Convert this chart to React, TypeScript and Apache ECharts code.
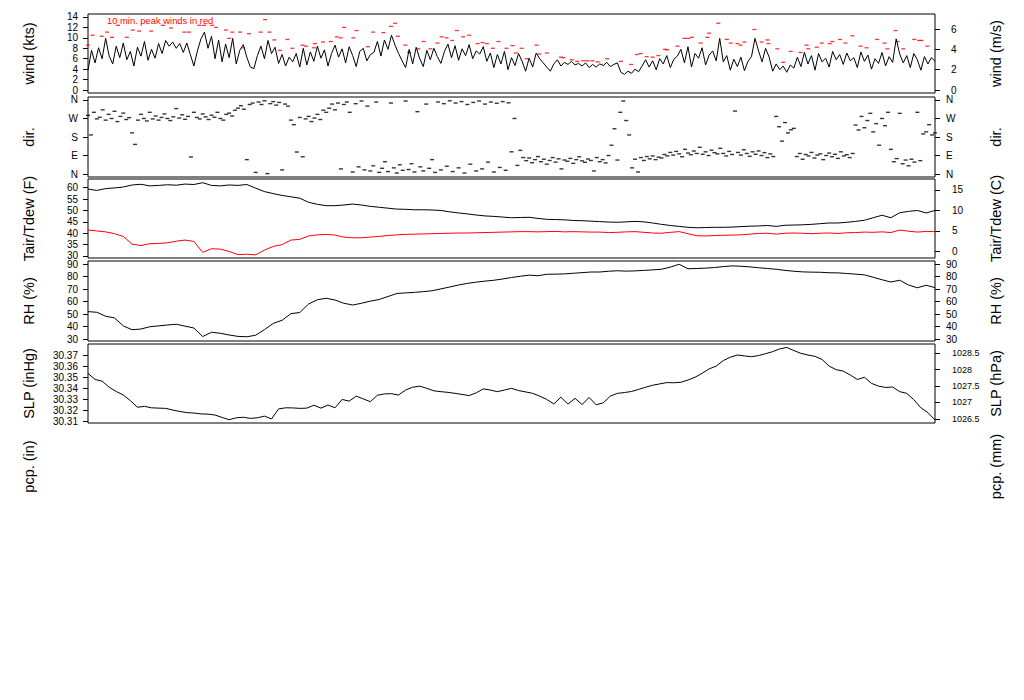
import React, { useEffect, useRef } from "react";
import * as echarts from "echarts";

// ---------- data (24 h, equally spaced samples) ----------
const windKts = [
  3.8, 7.6, 5.2, 8.1, 6.0, 9.9, 6.5, 5.0, 8.4, 6.2, 9.0, 5.8, 7.4,
  4.6, 8.2, 6.5, 9.3, 5.7, 7.8, 6.1, 8.9, 7.0, 9.5, 8.4, 9.2, 8.0,
  8.9, 7.2, 9.0, 6.8, 4.6, 7.5, 9.8, 11.1, 8.0, 10.3, 6.0,
  9.6, 5.4, 8.8, 6.2, 9.9, 5.0, 7.6, 8.7, 6.3, 4.4,
  4.1, 6.6, 8.4, 6.0, 9.5, 7.0, 8.2,
  5.1, 6.8, 4.6, 6.3, 5.4, 7.0, 4.4,
  8.0, 4.8, 7.3, 5.5, 8.4, 6.1, 7.7, 4.6, 7.0, 8.6, 6.3, 7.9,
  5.2, 8.3, 6.6, 4.5, 7.4, 8.0, 5.6, 6.8,
  7.2, 9.3, 6.5, 9.6, 7.8, 10.5, 8.6, 7.0,
  5.6, 4.3, 7.8, 5.0, 8.2, 6.0, 4.5, 7.6, 5.8, 8.0, 6.4, 5.1, 7.4, 8.8,
  6.2, 8.5, 5.7, 7.9, 6.6, 8.7, 6.0, 7.5, 6.9, 8.3, 5.5, 7.1,
  4.3, 6.8, 5.0, 7.4, 3.9, 6.2, 4.7, 7.0, 5.5, 3.6, 6.1, 4.4, 7.1,
  6.0, 5.2, 4.4, 3.6, 5.0, 5.8, 4.6, 5.3, 4.9, 5.5, 4.8, 5.1,
  4.6, 5.2, 4.3, 4.9, 4.4, 5.0, 4.7, 5.3, 4.5, 4.9, 5.2,
  3.4, 3.0, 3.6, 3.2, 4.0, 3.5, 4.6,
  5.8, 4.4, 5.6, 3.9, 6.0,
  5.0, 6.6, 4.3, 5.9, 6.5,
  7.8, 5.2, 8.3, 4.4, 7.0, 6.1, 8.1, 4.8, 6.7, 7.5, 5.6, 9.9,
  5.4, 6.6, 3.8, 5.9, 4.5, 6.3, 3.7, 5.5, 6.4, 9.9,
  7.5, 5.4, 8.0, 6.3,
  3.6, 5.0, 3.9, 4.6, 3.4, 4.8, 4.2,
  6.3, 4.5, 7.2, 5.0, 6.6, 3.8, 7.0, 5.4, 6.1, 4.4, 7.4, 5.8, 6.8, 4.9, 7.1, 5.6,
  6.2, 4.3, 7.3, 5.5, 6.7, 4.0, 6.0, 5.1, 7.2, 4.6, 6.4, 5.3, 9.8,
  6.9, 5.2, 6.6, 4.3, 7.0, 5.8, 3.8, 6.4, 5.0, 6.2, 5.5,
];

const peakHours = [
  0.0, 0.13, 0.39, 0.54, 0.68, 0.85, 1.10, 1.27, 1.45, 1.79, 2.12, 2.35, 2.73, 2.86, 3.15, 3.29, 3.52, 3.63,
  3.91, 4.00, 4.09, 4.31, 4.39, 4.56, 4.89, 5.02, 5.14, 5.28, 5.44, 5.65, 5.79,
  6.08, 6.18, 6.40, 6.43, 6.66, 6.88, 7.05, 7.16, 7.26, 7.52, 7.61, 7.93, 8.08, 8.37, 8.58, 8.70, 8.78,
  8.99, 9.10, 9.36, 9.51, 9.70, 9.90, 10.02, 10.16, 10.32, 10.45, 10.63, 10.80, 11.04, 11.18, 11.30,
  11.47, 11.63, 11.86, 12.03, 12.12, 12.29, 12.43, 12.71, 12.79, 13.00, 13.40, 13.47, 13.71, 13.86,
  14.03, 14.15, 14.29, 14.44, 14.71, 15.10, 15.39, 15.55, 15.66, 15.83, 16.00, 16.16,
  16.35, 16.41, 16.70, 16.90, 17.01, 17.11, 17.36, 17.55, 17.60, 17.86, 18.10, 18.21, 18.40, 18.49,
  18.60, 18.88, 19.09, 19.25, 19.28, 19.53, 19.70, 19.91, 20.19, 20.36, 20.41, 20.65, 20.79, 21.02,
  21.09, 21.31, 21.46, 21.66, 21.89, 22.06, 22.36, 22.57, 22.65, 22.88, 22.94, 23.10, 23.41, 23.55,
  23.62, 23.78,
];
const peakKts = [
  8.6, 10.5, 10.3, 11.1, 10.1, 12.4, 10.1, 11.5, 11.3, 11.3, 12.4, 11.9, 11.1, 11.1, 12.4, 12.4, 12.4, 12.0,
  11.5, 9.9, 11.1, 11.1, 8.1, 10.8, 11.1, 13.5, 11.1, 9.6, 7.6, 9.7, 8.0,
  8.6, 8.4, 8.1, 8.9, 9.2, 9.3, 10.2, 10.0, 12.0, 10.0, 11.4, 8.3, 11.1, 11.0, 12.2, 12.8, 10.3,
  8.6, 7.2, 7.9, 9.3, 7.9, 9.0, 10.2, 10.0, 9.5, 11.4, 10.2, 10.5, 8.9, 9.1, 8.9,
  8.0, 9.3, 8.0, 8.5, 7.1, 8.0, 6.0, 8.6, 6.9, 7.1, 6.3, 6.2, 5.8, 5.5,
  5.6, 5.6, 5.6, 5.4, 6.0, 5.5, 4.9, 6.8, 7.0, 6.4, 6.3, 6.6,
  7.8, 7.7, 8.4, 9.9, 9.9, 10.1, 9.0, 10.1, 10.9, 12.8, 9.7, 9.0, 8.9, 8.6,
  9.2, 11.6, 9.2, 9.6, 8.9, 7.9, 5.3, 7.4, 7.2, 8.6, 7.9, 8.2, 9.0, 8.9,
  9.3, 9.7, 9.0, 10.4, 8.4, 8.1, 9.7, 9.0, 7.9, 11.4, 9.3, 7.9, 9.7, 9.5,
  9.5, 8.4,
];

const dirDeg = [
  285, 190, 300, 268, 276, 312, 262, 290, 270, 305, 255, 280, 296, 265, 274, 200, 144, 262, 290, 270,
  258, 300, 268, 282, 262, 275, 292, 270, 260, 278, 318, 272, 288, 266, 280, 83, 300, 275, 268, 292,
  278, 265, 286, 276, 300, 270, 262, 290, 296, 282, 310, 320, 332, 315, 70, 338,
  345, 8, 350, 338, 356, 2, 342, 352, 335, 348, 20, 340, 330, 262, 240, 107, 275,
  84, 268, 280, 255, 272, 290, 265, 310, 300, 320, 340, 312, 345, 25, 338, 350, 300, 10, 342, 35, 355, 20, 330,
  15, 40, 350, 8, 28, 60, 12, 345, 30, 5, 45, 18, 355, 22, 50, 10, 303, 35, 15, 340, 28, 70, 8,
  350, 20, 342, 38, 356, 12, 345, 30, 352, 5, 338, 48, 348, 15, 355, 25, 340, 58, 350, 10, 344, 32, 352, 18,
  346, 108, 270, 42, 115, 80,
  65, 78, 55, 70, 85, 60, 72, 48, 66, 80, 58, 74, 25, 68, 62, 76, 52, 70, 84, 64, 57, 73, 66, 15, 80, 60,
  70, 54, 90, 140, 220, 68,
  300, 355, 260, 190, 30, 72, 10, 80, 66, 85, 74, 88, 70, 82, 78,
  95, 88, 105, 92, 110, 98, 84, 120, 102, 94, 112, 100, 130, 96, 108, 90, 116, 104, 98, 125, 100, 88, 110,
  95, 306, 105, 92, 118, 100, 86, 108, 96, 112, 90, 104, 80, 98, 85,
  280, 230, 160, 250, 200, 215, 222,
  85, 100, 72, 95, 88, 105, 78, 92, 98, 70, 90, 102, 84, 96, 76, 108, 88, 94, 80, 100,
  238, 214, 280, 225, 260, 295, 205, 245, 140, 270, 235, 300,
  120, 60, 75, 295, 50, 68, 40, 72, 58, 300, 65,
  195, 205, 240, 190, 200,
];

const tairF = [
  59.4, 58.8, 59.6, 59.9, 60.3, 61.2, 61.5, 60.8, 61.0, 61.3,
  61.1, 61.6, 61.4, 62.2, 61.0, 60.8, 61.2, 61.0, 61.4, 59.8,
  58.3, 57.4, 56.6, 56.0, 55.4, 53.6, 52.7, 52.1, 52.1, 52.4,
  52.8, 52.4, 51.8, 51.4, 51.0, 50.6, 50.5, 50.3, 50.3, 50.2,
  50.0, 49.4, 48.9, 48.5, 48.0, 47.6, 47.4, 47.1, 46.8, 46.9,
  47.0, 46.5, 46.1, 46.0, 45.9, 45.6, 45.5, 45.3, 45.1, 44.9,
  44.8, 45.0, 45.2, 45.0, 44.5, 43.9, 43.4, 43.0, 42.6, 42.4,
  42.5, 42.6, 42.6, 42.7, 42.9, 43.1, 43.2, 43.4, 43.0, 43.5,
  43.6, 43.7, 43.9, 44.2, 44.5, 44.5, 44.8, 45.2, 45.7, 46.8,
  47.9, 46.8, 49.0, 49.6, 50.0, 48.9, 50.0,
];
const tdewF = [
  41.4, 41.0, 40.6, 39.8, 38.6, 35.2, 34.6, 35.4, 35.5, 35.8,
  36.5, 37.0, 36.4, 31.6, 33.2, 33.0, 32.0, 30.6, 30.8, 30.5,
  32.6, 34.2, 35.0, 37.0, 37.3, 38.8, 39.3, 39.5, 39.2, 38.3,
  38.0, 38.0, 38.3, 38.6, 39.0, 39.3, 39.5, 39.6, 39.7, 39.8,
  39.9, 40.0, 40.1, 40.1, 40.2, 40.3, 40.4, 40.5, 40.6, 40.7,
  40.7, 40.6, 40.7, 40.8, 40.6, 40.7, 40.6, 40.5, 40.5, 40.3,
  40.4, 40.6, 40.7, 40.4, 40.1, 40.0, 40.4, 40.7, 39.8, 38.9,
  38.8, 39.0, 39.1, 39.2, 39.3, 39.6, 39.9, 40.0, 39.6, 40.0,
  40.1, 40.0, 39.8, 40.0, 40.1, 39.9, 40.2, 40.3, 40.5, 40.4,
  40.6, 40.3, 41.4, 40.9, 40.5, 40.8, 40.7,
];
const rhPct = [
  51.9, 51.4, 48.2, 46.9, 40.5, 37.4, 38.0, 39.8, 40.5, 41.2,
  41.8, 40.3, 38.8, 32.0, 35.4, 34.6, 33.2, 32.1, 31.8, 33.0,
  37.5, 42.5, 45.0, 50.3, 51.2, 58.0, 61.4, 62.6, 61.2, 58.6,
  57.2, 58.6, 60.3, 61.6, 64.0, 66.4, 66.9, 67.3, 67.9, 68.6,
  70.1, 71.6, 73.2, 74.5, 75.5, 76.3, 77.0, 78.0, 79.2, 80.2,
  81.1, 80.6, 81.8, 81.9, 82.1, 82.6, 83.1, 83.6, 83.6, 84.2,
  84.6, 84.3, 84.5, 84.9, 85.3, 85.8, 87.5, 89.8, 86.2, 86.4,
  86.7, 87.2, 87.9, 88.5, 88.2, 87.7, 87.0, 86.4, 85.8, 84.9,
  84.2, 83.7, 83.5, 83.4, 83.0, 82.9, 82.4, 81.9, 81.3, 79.4,
  77.4, 75.6, 77.0, 73.2, 71.0, 73.0, 71.1,
];
const slpInHg = [
  30.3535, 30.3480, 30.3465, 30.3410, 30.3372, 30.3340, 30.3290, 30.3230, 30.3238, 30.3225,
  30.3222, 30.3220, 30.3205, 30.3192, 30.3182, 30.3178, 30.3170, 30.3168, 30.3160, 30.3138,
  30.3118, 30.3135, 30.3140, 30.3130, 30.3135, 30.3150, 30.3125, 30.3215, 30.3225, 30.3224,
  30.3220, 30.3222, 30.3248, 30.3222, 30.3250, 30.3225, 30.3300, 30.3285, 30.3330, 30.3305,
  30.3280, 30.3338, 30.3350, 30.3352, 30.3340, 30.3385, 30.3410, 30.3420, 30.3400, 30.3378,
  30.3370, 30.3364, 30.3355, 30.3345, 30.3335, 30.3360, 30.3395, 30.3385, 30.3370, 30.3385,
  30.3400, 30.3380, 30.3368, 30.3355, 30.3330, 30.3300, 30.3260, 30.3320, 30.3258, 30.3310,
  30.3255, 30.3318, 30.3252, 30.3270, 30.3330, 30.3355, 30.3362, 30.3372, 30.3390, 30.3410,
  30.3428, 30.3440, 30.3452, 30.3450, 30.3455, 30.3475, 30.3500, 30.3535, 30.3575, 30.3600,
  30.3650, 30.3680, 30.3700, 30.3692, 30.3685, 30.3695, 30.3712, 30.3730, 30.3755, 30.3768,
  30.3740, 30.3715, 30.3700, 30.3688, 30.3660, 30.3600, 30.3568, 30.3555, 30.3520, 30.3480,
  30.3500, 30.3445, 30.3420, 30.3408, 30.3412, 30.3370, 30.3355, 30.3298, 30.3225, 30.3182,
  30.3115,
];

// ---------- tick labels ----------
const windKtsTicks = [0, 2, 4, 6, 8, 10, 12, 14];
const windMsTicks = [0, 2, 4, 6];
const dirTicks = [0, 90, 180, 270, 360];
const dirNames = ["N", "E", "S", "W", "N"];
const tempFTicks = [30, 35, 40, 45, 50, 55, 60];
const tempCTicks = [0, 5, 10, 15];
const rhTicks = [30, 40, 50, 60, 70, 80, 90];
const slpInTicks = [30.31, 30.32, 30.33, 30.34, 30.35, 30.36, 30.37];
const slpHpaTicks = [1026.5, 1027, 1027.5, 1028, 1028.5];

const leftTitles = ["wind (kts)", "dir.", "Tair/Tdew (F)", "RH (%)", "SLP (inHg)", "pcp. (in)"];
const rightTitles = ["wind (m/s)", "dir.", "Tair/Tdew (C)", "RH (%)", "SLP (hPa)", "pcp. (mm)"];

const KT_TO_MS = 0.514444;
const INHG_TO_HPA = 33.8639;
const FONT = '"Liberation Sans", Arial, Helvetica, sans-serif';

function timed(values: number[]) {
  const n = values.length;
  return values.map((v, i) => [(i * 24) / (n - 1), v]);
}

function yAx(
  gridIndex: number,
  position: string,
  min: number,
  max: number,
  ticks: number[],
  margin: number,
  fmt: (v: number) => string,
  fontSize = 10
) {
  return {
    type: "value",
    gridIndex,
    position,
    min,
    max,
    axisLine: { show: false },
    axisTick: {
      show: true,
      inside: false,
      length: 5,
      lineStyle: { color: "#000", width: 1 },
      customValues: ticks,
    },
    axisLabel: {
      show: true,
      customValues: ticks,
      margin,
      formatter: fmt,
      fontSize,
      color: "#000",
      fontFamily: FONT,
    },
    splitLine: { show: false },
  };
}

export default function App() {
  const ref = useRef<HTMLDivElement>(null);

  useEffect(() => {
    if (!ref.current) return;
    const chart = echarts.init(ref.current, undefined, { renderer: "svg" });

    const panels = [
      { top: 14, height: 79 },
      { top: 97, height: 80 },
      { top: 179, height: 79 },
      { top: 261, height: 80 },
      { top: 344, height: 79 },
    ];
    const grid = panels.map((p) => ({
      left: 88,
      width: 847,
      top: p.top,
      height: p.height,
      show: true,
      borderColor: "#000",
      borderWidth: 1,
      backgroundColor: "transparent",
      containLabel: false,
    }));
    const xAxis = panels.map((_, i) => ({
      type: "value",
      gridIndex: i,
      min: 0,
      max: 24,
      show: false,
    }));

    const wMin = -0.575, wMax = 14.575;
    const tMin = 29.12, tMax = 63.82;
    const sMin = 30.30883, sMax = 30.3799;

    const yAxis = [
      yAx(0, "left", wMin, wMax, windKtsTicks, 10, (v) => String(v)),
      yAx(0, "right", wMin * KT_TO_MS, wMax * KT_TO_MS, windMsTicks, 16, (v) => String(v)),
      yAx(1, "left", -14.4, 374.4, dirTicks, 10, (v) => dirNames[dirTicks.indexOf(v)] ?? ""),
      yAx(1, "right", -14.4, 374.4, dirTicks, 11, (v) => dirNames[dirTicks.indexOf(v)] ?? ""),
      yAx(2, "left", tMin, tMax, tempFTicks, 10, (v) => String(v)),
      yAx(2, "right", (tMin - 32) / 1.8, (tMax - 32) / 1.8, tempCTicks, 17, (v) => String(v)),
      yAx(3, "left", 28.4, 92.4, rhTicks, 10, (v) => String(v)),
      yAx(3, "right", 28.4, 92.4, rhTicks, 11, (v) => String(v)),
      yAx(4, "left", sMin, sMax, slpInTicks, 10, (v) => v.toFixed(2)),
      yAx(4, "right", sMin * INHG_TO_HPA, sMax * INHG_TO_HPA, slpHpaTicks, 17, (v) => String(v), 9),
    ];

    const lineBase = {
      type: "line",
      showSymbol: false,
      symbol: "none",
      silent: true,
      clip: true,
    };

    const series = [
      {
        ...lineBase,
        xAxisIndex: 0,
        yAxisIndex: 0,
        data: timed(windKts),
        lineStyle: { color: "#000", width: 1 },
      },
      {
        type: "scatter",
        xAxisIndex: 0,
        yAxisIndex: 0,
        symbol: "rect",
        symbolSize: [4, 1.3],
        silent: true,
        itemStyle: { color: "#ff0000" },
        data: peakHours.map((h, i) => [h, peakKts[i]]),
      },
      {
        type: "scatter",
        xAxisIndex: 1,
        yAxisIndex: 2,
        symbol: "rect",
        symbolSize: [4, 1.4],
        silent: true,
        itemStyle: { color: "#000" },
        data: timed(dirDeg),
      },
      {
        ...lineBase,
        xAxisIndex: 2,
        yAxisIndex: 4,
        data: timed(tairF),
        lineStyle: { color: "#000", width: 1 },
      },
      {
        ...lineBase,
        xAxisIndex: 2,
        yAxisIndex: 4,
        data: timed(tdewF),
        lineStyle: { color: "#ff0000", width: 1 },
      },
      {
        ...lineBase,
        xAxisIndex: 3,
        yAxisIndex: 6,
        data: timed(rhPct),
        lineStyle: { color: "#000", width: 1 },
      },
      {
        ...lineBase,
        xAxisIndex: 4,
        yAxisIndex: 8,
        data: timed(slpInHg),
        lineStyle: { color: "#000", width: 1 },
      },
    ];

    const titleCenters = [53.5, 137, 218.5, 301, 383.5, 466.5];
    const titleEls: any[] = [];
    titleCenters.forEach((cy, i) => {
      titleEls.push({
        type: "text",
        x: 29,
        y: cy,
        rotation: Math.PI / 2,
        silent: true,
        style: {
          text: leftTitles[i],
          fill: "#000",
          font: `14.5px ${FONT}`,
          textAlign: "center",
          textVerticalAlign: "middle",
        },
      });
      titleEls.push({
        type: "text",
        x: 996,
        y: cy,
        rotation: Math.PI / 2,
        silent: true,
        style: {
          text: rightTitles[i],
          fill: "#000",
          font: `14.5px ${FONT}`,
          textAlign: "center",
          textVerticalAlign: "middle",
        },
      });
    });
    titleEls.push({
      type: "text",
      x: 107,
      y: 20,
      silent: true,
      style: {
        text: "10 min. peak winds in red",
        fill: "#ff0000",
        font: `9.4px ${FONT}`,
        textAlign: "left",
        textVerticalAlign: "middle",
      },
    });

    chart.setOption({
      animation: false,
      backgroundColor: "#fff",
      grid,
      xAxis,
      yAxis,
      series,
      graphic: { elements: titleEls },
    });

    return () => chart.dispose();
  }, []);

  return (
    <div
      ref={ref}
      style={{ position: "fixed", left: 0, top: 0, width: 1024, height: 700, background: "#fff" }}
    />
  );
}
